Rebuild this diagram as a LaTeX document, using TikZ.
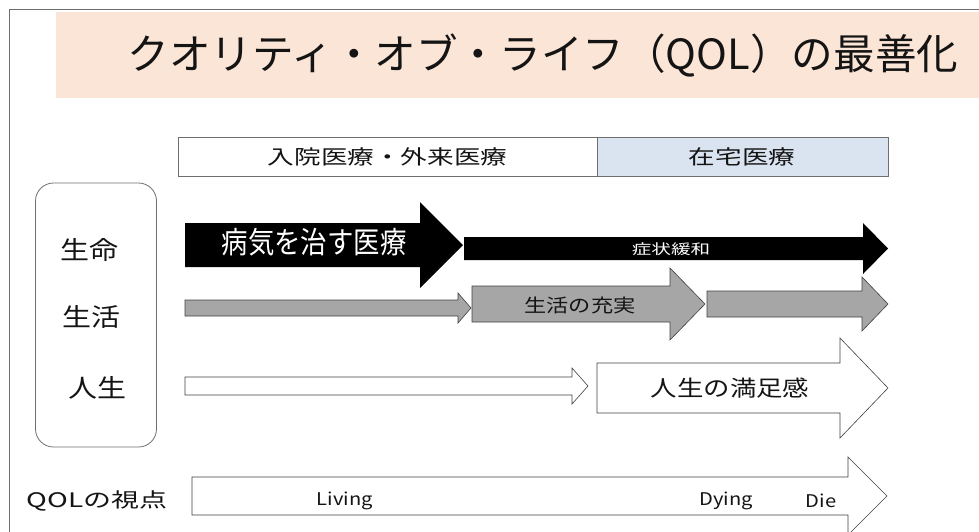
\documentclass[tikz,border=0pt]{standalone}
\usepackage{fontspec}
\setmainfont{Noto Sans CJK JP}
\definecolor{peach}{RGB}{251,229,214}
\definecolor{paleblue}{RGB}{218,227,240}
\definecolor{arrowgray}{RGB}{166,166,166}
\definecolor{framegray}{RGB}{110,110,110}
\definecolor{edgegray}{RGB}{64,64,64}
\definecolor{ink}{RGB}{20,20,20}
\newcommand\jtxt[3]{{\addfontfeatures{FakeStretch=#2}\fontsize{#1}{#1}\selectfont #3}}
% style, x start, x head base, x tip, y centre, body half height, head half height
\newcommand\blockarrow[7]{\path[#1] (#2,{#5-#6}) -- (#3,{#5-#6}) -- (#3,{#5-#7}) -- (#4,#5) -- (#3,{#5+#7}) -- (#3,{#5+#6}) -- (#2,{#5+#6}) -- cycle;}
\tikzset{
  hdr/.style={draw=framegray, line width=0.8pt, inner sep=0pt, anchor=north west, minimum height=39pt, text=ink},
  lbl/.style={inner sep=0pt, text=ink},
  wlbl/.style={inner sep=0pt, text=white},
  blackarrow/.style={fill=black},
  grayarrow/.style={fill=arrowgray, draw=edgegray, line width=0.6pt, line join=miter},
  whitearrow/.style={fill=white, draw=edgegray, line width=0.6pt, line join=miter},
}
\begin{document}
\begin{tikzpicture}[x=1pt,y=-1pt]
\useasboundingbox (0,0) rectangle (979,531);
\clip (0,0) rectangle (979,531);
% outer frame (cut off at right and bottom)
\draw[framegray, line width=1pt] (9,540) -- (9,9) -- (990,9);
% title band
\fill[peach] (56,12) rectangle (990,98);
\node[lbl] (title) at (543,55) {\jtxt{41.6}{1.0}{クオリティ・オブ・ライフ（QOL）の最善化}};
% header boxes
\node[hdr, fill=white, minimum width=419pt] (hosp) at (178,137) {};
\node[hdr, fill=paleblue, minimum width=291pt] (home) at (597,137) {};
\node[lbl] (hosptxt) at (387.5,157) {\jtxt{20}{1.33}{入院医療・外来医療}};
\node[lbl] (hometxt) at (742,157) {\jtxt{20}{1.33}{在宅医療}};
% left rounded box
\node[draw=framegray, line width=0.8pt, rounded corners=18pt, minimum width=121pt, minimum height=264pt, inner sep=0pt] (axis) at (96,315) {};
\node[lbl] (seimei) at (89,250) {\jtxt{25}{1.16}{生命}};
\node[lbl] (seikatsu) at (91,317) {\jtxt{25}{1.16}{生活}};
\node[lbl] (jinsei) at (97,388) {\jtxt{25}{1.16}{人生}};
% life row
\blockarrow{blackarrow}{185}{420}{463}{245}{22}{43}
\blockarrow{blackarrow}{464}{863}{888}{248.5}{11.5}{25.5}
\node[wlbl] (cure) at (314,242) {\jtxt{30}{0.88}{病気を治す医療}};
\node[wlbl] (relief) at (671,249) {\jtxt{14}{1.4}{症状緩和}};
% daily-life row
\blockarrow{grayarrow}{185}{458}{471}{308}{8}{15}
\blockarrow{grayarrow}{472}{670}{705}{304}{18}{36}
\blockarrow{grayarrow}{707}{862}{888}{304}{13}{27}
\node[lbl] (fulfil) at (580,305) {\jtxt{18.5}{1.2}{生活の充実}};
% life-course row
\blockarrow{whitearrow}{185}{572}{588}{386}{9}{18}
\blockarrow{whitearrow}{597}{840}{888}{388}{25}{50}
\node[lbl] (satis) at (730,388) {\jtxt{22}{1.2}{人生の満足感}};
% QOL viewpoint row
\node[lbl] (qol) at (97,501) {\jtxt{20}{1.4}{QOLの視点}};
\blockarrow{whitearrow}{192}{848}{887}{496}{19}{39}
\node[lbl] (living) at (345,501) {\jtxt{17.5}{1.15}{Living}};
\node[lbl] (dying) at (726,501) {\jtxt{17.5}{1.15}{Dying}};
\node[lbl] (die) at (821,501) {\jtxt{17.5}{1.15}{Die}};
\end{tikzpicture}
\end{document}
